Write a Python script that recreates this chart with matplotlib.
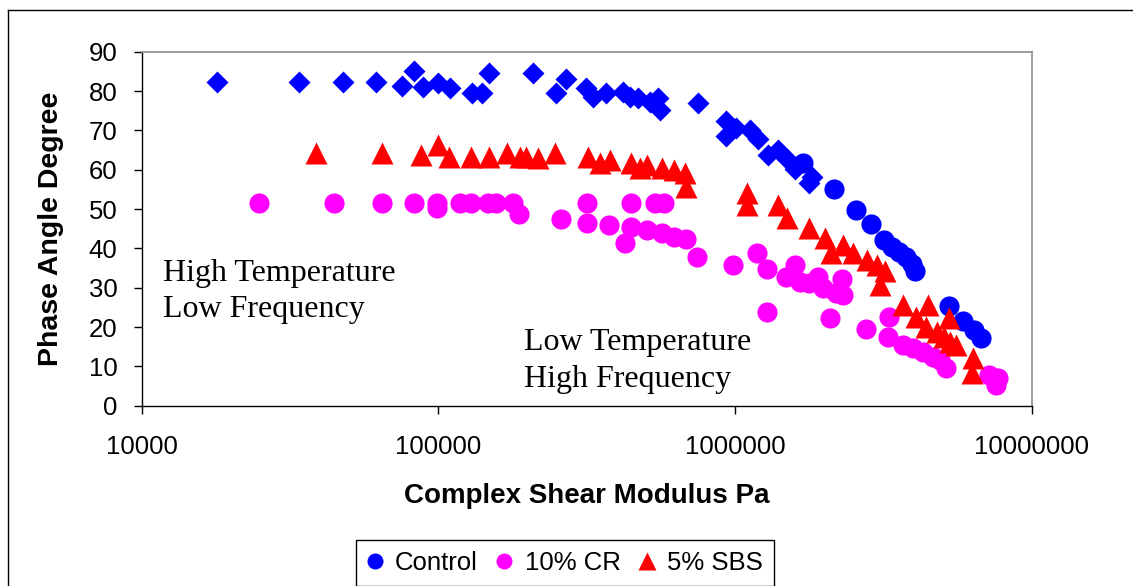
import matplotlib
matplotlib.use("Agg")
import matplotlib.pyplot as plt
from matplotlib.lines import Line2D

# Complex shear modulus G* (Pa) and phase angle (degree) for each binder
control_diamond_g = [18000, 34000, 47700, 61500, 75700, 82900, 88500, 99800, 109500,
                     129500, 139800, 148200, 208500, 248700, 268700, 315300, 332000,
                     368400, 419000, 441400, 470800, 515300, 549700, 557000, 749700,
                     933000, 933000, 1010000, 1120000, 1190000, 1290000, 1390000,
                     1510000, 1590000, 1780000, 1810000]
control_diamond_delta = [82.4, 82.4, 82.4, 82.4, 81.4, 85.2, 81.1, 82.0, 80.7,
                         79.4, 79.4, 84.5, 84.5, 79.4, 83.0, 80.7, 78.6,
                         79.4, 79.8, 78.6, 78.2, 77.3, 78.2, 75.2, 77.0,
                         72.5, 68.5, 70.5, 70.0, 67.8, 63.7, 65.0,
                         62.5, 60.3, 56.5, 58.2]

control_g = [1690000, 2160000, 2560000, 2860000, 3180000, 3380000, 3560000, 3750000,
             3930000, 4020000, 5250000, 5850000, 6400000, 6740000]
control_delta = [61.6, 55.1, 49.7, 46.3, 42.1, 40.3, 39.0, 37.8,
                 36.0, 34.2, 25.4, 21.5, 19.3, 17.1]

cr_g = [24900, 44500, 64400, 82700, 99000, 99000, 118000, 129000, 147000, 157000,
        179000, 187000, 258000, 318000, 318000, 376000, 424000, 447000, 447000,
        505000, 536000, 575000, 569000, 621000, 681000, 743000, 984000, 1180000,
        1280000, 1280000, 1480000, 1590000, 1650000, 1780000, 1900000, 1980000,
        2090000, 2190000, 2290000, 2310000, 2750000, 3310000, 3270000, 3670000,
        3970000, 4290000, 4630000, 4880000, 5140000, 7190000, 7580000, 7670000]
cr_delta = [51.5, 51.5, 51.5, 51.5, 51.5, 50.2, 51.5, 51.5, 51.5, 51.5,
            51.5, 48.7, 47.4, 51.5, 46.4, 45.9, 41.4, 51.5, 45.5,
            44.7, 51.5, 51.5, 43.8, 42.8, 42.3, 37.9, 35.8, 38.7,
            34.7, 23.9, 32.6, 35.8, 31.5, 31.1, 32.6, 29.8,
            22.2, 28.6, 32.1, 28.1, 19.4, 22.6, 17.5, 15.4,
            14.6, 13.7, 12.5, 11.6, 9.5, 7.8, 5.3, 7.0]

sbs_g = [38700, 64700, 87300, 99800, 109000, 129000, 148000, 170000, 188000, 198000,
         217000, 247000, 319000, 350000, 378000, 447000, 477000, 504000, 569000,
         621000, 676000, 685000, 1100000, 1100000, 1390000, 1490000, 1780000,
         2000000, 2110000, 2310000, 2490000, 2770000, 3010000, 3200000, 3080000,
         3690000, 4070000, 4460000, 4410000, 4770000, 5070000, 5270000, 5300000,
         5550000, 6350000, 6290000]
sbs_delta = [64.2, 64.2, 63.7, 66.3, 63.3, 63.3, 63.3, 64.2, 63.3, 63.3,
             62.9, 64.2, 63.3, 61.6, 62.5, 61.6, 60.4, 61.2, 60.4,
             59.9, 59.1, 55.7, 54.0, 51.0, 51.0, 47.6, 45.1,
             42.6, 38.7, 40.9, 38.7, 37.0, 35.8, 34.2, 30.6,
             25.6, 22.6, 25.6, 20.1, 18.8, 17.5, 22.2, 16.3,
             15.4, 12.1, 8.2]

series_labels = ["Control", "10% CR", "5% SBS"]
x_ticks = [1e4, 1e5, 1e6, 1e7]
x_tick_labels = ["10000", "100000", "1000000", "10000000"]
y_ticks = list(range(0, 91, 10))

BLUE, MAGENTA, RED = "#0000FF", "#FF00FF", "#FF0000"
SANS = ["Liberation Sans", "DejaVu Sans"]
SERIF = ["Liberation Serif", "DejaVu Serif"]
plt.rcParams["font.family"] = SANS

W, H = 1133, 586
fig = plt.figure(figsize=(W / 100, H / 100), dpi=100)
fig.patch.set_facecolor("white")

def px(x, y):
    return x / W, 1 - y / H

left, top, right, bottom = 141.5, 51.7, 1032.0, 405.7
ax = fig.add_axes([left / W, 1 - bottom / H, (right - left) / W, (bottom - top) / H])

ax.plot(control_diamond_g, control_diamond_delta, linestyle="none", marker="D",
        ms=10.7, mfc=BLUE, mec="none", zorder=3)
ax.plot(control_g, control_delta, linestyle="none", marker="o",
        ms=14.5, mfc=BLUE, mec="none", zorder=3)
ax.plot(cr_g, cr_delta, linestyle="none", marker="o",
        ms=14.5, mfc=MAGENTA, mec="none", zorder=4)
ax.plot(sbs_g, sbs_delta, linestyle="none", marker="^",
        ms=15.5, mfc=RED, mec="none", zorder=5)

ax.set_xscale("log")
ax.set_xlim(1e4, 1e7)
ax.set_ylim(0, 90)
ax.set_xticks(x_ticks)
ax.set_xticklabels(x_tick_labels)
ax.xaxis.set_minor_locator(matplotlib.ticker.NullLocator())
ax.set_yticks(y_ticks)
ax.tick_params(axis="both", direction="out", length=5.8, width=1.0, color="black",
               labelsize=18.5)
ax.tick_params(axis="x", pad=15)
ax.tick_params(axis="y", pad=11.5)

for side in ("left", "bottom"):
    ax.spines[side].set_color("black")
    ax.spines[side].set_linewidth(1.0)
for side in ("top", "right"):
    ax.spines[side].set_color("#8c8c8c")
    ax.spines[side].set_linewidth(1.2)

# axis titles
fig.text(*px(586.7, 503), "Complex Shear Modulus Pa", ha="center", va="baseline",
         fontsize=20, fontweight="bold")
fig.text(*px(51, 228.7), "Phase Angle Degree", ha="center", va="center",
         rotation=90, fontsize=20.5, fontweight="bold")

# region annotations
fig.text(*px(163, 281), "High Temperature", ha="left", va="baseline",
         fontsize=23, family=SERIF)
fig.text(*px(163, 317), "Low Frequency", ha="left", va="baseline",
         fontsize=23, family=SERIF)
fig.text(*px(524, 350), "Low Temperature", ha="left", va="baseline",
         fontsize=23, family=SERIF)
fig.text(*px(524, 386.7), "High Frequency", ha="left", va="baseline",
         fontsize=23, family=SERIF)

# legend
handles = [
    Line2D([], [], linestyle="none", marker="o", ms=11.5, mfc=BLUE, mec="none"),
    Line2D([], [], linestyle="none", marker="o", ms=11.5, mfc=MAGENTA, mec="none"),
    Line2D([], [], linestyle="none", marker="^", ms=12.5, mfc=RED, mec="none"),
]
leg = fig.legend(handles, series_labels, loc="center", bbox_to_anchor=px(565, 563),
                 ncol=3, fontsize=18.5, frameon=True, fancybox=False, shadow=False,
                 edgecolor="black", framealpha=1, handlelength=0.6, handletextpad=0.5,
                 columnspacing=0.72, borderpad=0.42, borderaxespad=0)
leg.get_frame().set_linewidth(1.0)

# chart area border
fig.add_artist(Line2D([8 / W, 8 / W], [0, 1 - 10 / H], transform=fig.transFigure,
                      color="black", linewidth=1.0))
fig.add_artist(Line2D([8 / W, 1], [1 - 10 / H, 1 - 10 / H], transform=fig.transFigure,
                      color="black", linewidth=1.0))

fig.savefig("out.png", dpi=100, facecolor="white")
